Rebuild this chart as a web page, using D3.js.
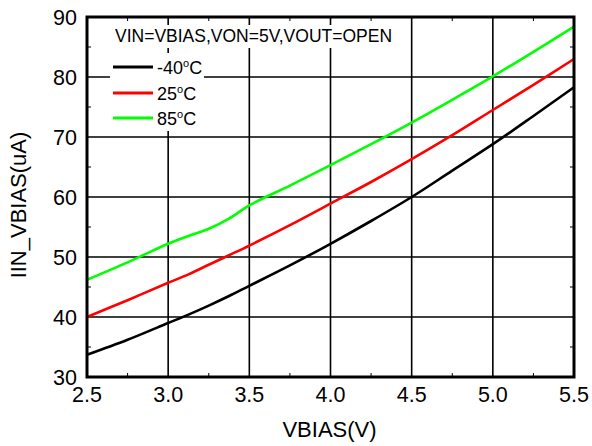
<!DOCTYPE html>
<html><head><meta charset="utf-8">
<script src="https://cdn.jsdelivr.net/npm/d3@7"></script>
<style>html,body{margin:0;padding:0;background:#fff;} svg{display:block;font-family:"Liberation Sans",Arial,sans-serif;}</style>
</head><body>
<svg id="c" width="592" height="446"></svg>
<script>
const vbias = [2.5, 2.75, 3.0, 3.125, 3.25, 3.375, 3.5, 3.75, 4.0, 4.25, 4.5, 4.75, 5.0, 5.25, 5.5];
const iMinus40 = [33.7, 36.2, 39.0, 40.4, 41.9, 43.5, 45.2, 48.6, 52.2, 56.0, 60.0, 64.4, 68.8, 73.5, 78.3];
const i25 = [40.0, 42.8, 45.7, 47.1, 48.7, 50.3, 51.9, 55.3, 58.9, 62.5, 66.3, 70.3, 74.5, 78.7, 83.0];
const i85 = [46.2, 49.1, 52.2, 53.5, 54.7, 56.4, 58.6, 61.9, 65.3, 68.8, 72.4, 76.2, 80.1, 84.2, 88.4];
const seriesNames = ["-40\u00b0C", "25\u00b0C", "85\u00b0C"];
const seriesColors = ["#000000", "#ff0000", "#00ff00"];
const xTicks = [2.5, 3.0, 3.5, 4.0, 4.5, 5.0, 5.5];
const yTicks = [30, 40, 50, 60, 70, 80, 90];
const xMinor = [2.75, 3.25, 3.75, 4.25, 4.75, 5.25];
const yMinor = [35, 45, 55, 65, 75, 85];
const conditionText = "VIN=VBIAS,VON=5V,VOUT=OPEN";
const xTitle = "VBIAS(V)";
const yTitle = "IIN_VBIAS(uA)";

const L = 87, T = 17, W = 487, H = 360;
const svg = d3.select("#c");
const x = d3.scaleLinear().domain([2.5, 5.5]).range([L, L + W]);
const y = d3.scaleLinear().domain([30, 90]).range([T + H, T]);

// grid
const g = svg.append("g");
g.selectAll(".gx").data(xTicks).join("line")
  .attr("x1", d => x(d)).attr("x2", d => x(d)).attr("y1", T).attr("y2", T + H)
  .attr("stroke", "#000").attr("stroke-width", 1.6);
g.selectAll(".gy").data(yTicks).join("line")
  .attr("y1", d => y(d)).attr("y2", d => y(d)).attr("x1", L).attr("x2", L + W)
  .attr("stroke", "#000").attr("stroke-width", 1.6);

// minor ticks (inward) on all four sides
const tl = 4;
g.selectAll(".mxb").data(xMinor).join("line")
  .attr("x1", d => x(d)).attr("x2", d => x(d)).attr("y1", T + H).attr("y2", T + H - tl)
  .attr("stroke", "#000").attr("stroke-width", 1);
g.selectAll(".mxt").data(xMinor).join("line")
  .attr("x1", d => x(d)).attr("x2", d => x(d)).attr("y1", T).attr("y2", T + tl)
  .attr("stroke", "#000").attr("stroke-width", 1);
g.selectAll(".myl").data(yMinor).join("line")
  .attr("y1", d => y(d)).attr("y2", d => y(d)).attr("x1", L).attr("x2", L + tl)
  .attr("stroke", "#000").attr("stroke-width", 1);
g.selectAll(".myr").data(yMinor).join("line")
  .attr("y1", d => y(d)).attr("y2", d => y(d)).attr("x1", L + W).attr("x2", L + W - tl)
  .attr("stroke", "#000").attr("stroke-width", 1);

// series
const allSeries = [iMinus40, i25, i85];
const line = d3.line().x((d, i) => x(vbias[i])).y(d => y(d)).curve(d3.curveCatmullRom.alpha(0.5));
allSeries.forEach((s, k) => {
  svg.append("path").datum(s).attr("d", line).attr("fill", "none")
    .attr("stroke", seriesColors[k]).attr("stroke-width", 2.6);
});

// frame
svg.append("rect").attr("x", L).attr("y", T).attr("width", W).attr("height", H)
  .attr("fill", "none").attr("stroke", "#000").attr("stroke-width", 3);

// condition text with white background
svg.append("rect").attr("x", 111).attr("y", 25).attr("width", 287).attr("height", 23).attr("fill", "#fff");
svg.append("text").attr("x", 115).attr("y", 42).attr("font-size", 17.5).attr("fill", "#000").text(conditionText);

// legend
svg.append("rect").attr("x", 110).attr("y", 53).attr("width", 94).attr("height", 78).attr("fill", "#fff");
const legY = [67, 93, 118];
seriesNames.forEach((n, k) => {
  svg.append("line").attr("x1", 113).attr("x2", 153).attr("y1", legY[k]).attr("y2", legY[k])
    .attr("stroke", seriesColors[k]).attr("stroke-width", 2.8);
  const parts = n.split("\u00b0");
  const t = svg.append("text").attr("x", 157).attr("y", legY[k] + 6.5).attr("font-size", 18).attr("fill", "#000");
  t.append("tspan").text(parts[0]);
  t.append("tspan").attr("font-size", 11).attr("dy", -7).text("o");
  t.append("tspan").attr("dy", 7).text(parts[1]);
});

// tick labels
svg.selectAll(".xl").data(xTicks).join("text")
  .attr("x", d => x(d)).attr("y", 402).attr("text-anchor", "middle").attr("font-size", 21.5)
  .text(d => d.toFixed(1));
svg.selectAll(".yl").data(yTicks).join("text")
  .attr("x", 77).attr("y", d => y(d) + 7.7).attr("text-anchor", "end").attr("font-size", 21.5)
  .text(d => d);

// axis titles
svg.append("text").attr("x", x(4.0) - 1).attr("y", 437).attr("text-anchor", "middle").attr("font-size", 22).text(xTitle);
svg.append("text").attr("transform", "translate(26,205) rotate(-90)").attr("text-anchor", "middle").attr("font-size", 22).text(yTitle);
</script>
</body></html>
